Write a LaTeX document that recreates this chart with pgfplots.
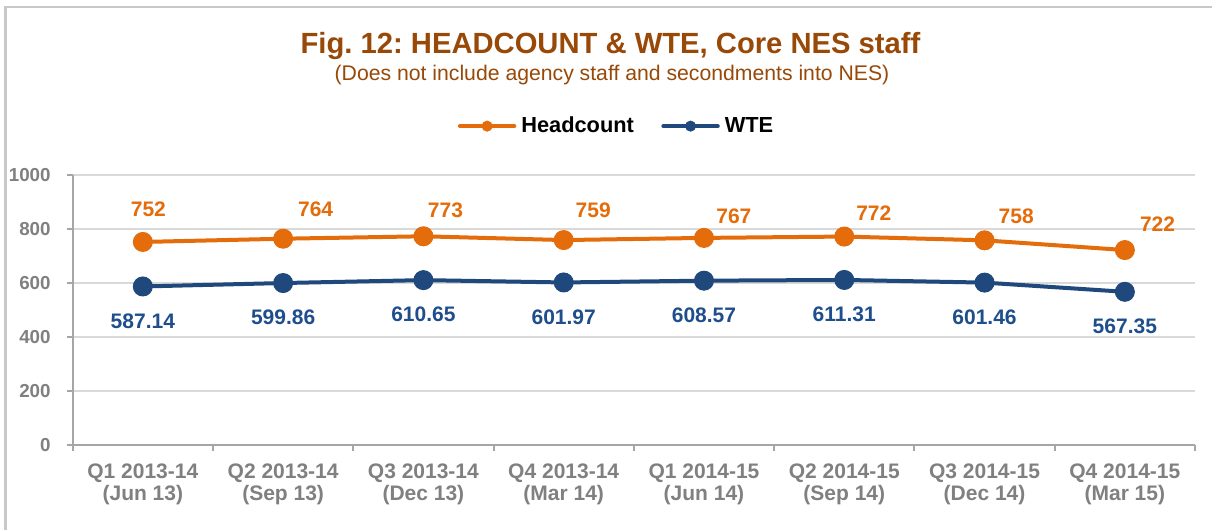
\documentclass[border=0pt]{standalone}
\usepackage{fontspec}
\setmainfont{Liberation Sans}
\usepackage{pgfplots}
\usepackage{pgfplotstable}
\pgfplotsset{compat=1.18}
\frenchspacing
\definecolor{hc}{HTML}{E46C0A}
\definecolor{wte}{HTML}{1F497D}
\definecolor{wtelab}{HTML}{1F4E8C}
\definecolor{titlec}{HTML}{984807}
\definecolor{tickc}{HTML}{808080}
\definecolor{axisc}{HTML}{A6A6A6}
\definecolor{gridc}{HTML}{D9D9D9}
\definecolor{borderc}{HTML}{C8C8C8}

\pgfplotstableread{
x y dx dy lab
0.5 752 2.75 16.1 752
1.5 764 16.25 14.9 764
2.5 773 11 13.1 773
3.5 759 14.75 14.65 759
4.5 767 14.95 10.7 767
5.5 772 14.75 11.85 772
6.5 758 15.85 12.2 758
7.5 722 16.35 13 722
}\hcdata

\pgfplotstableread{
x y dx dy lab
0.5 587.14 0 -17.25 587.14
1.5 599.86 0 -17.25 599.86
2.5 610.65 0 -17.25 610.65
3.5 601.97 0 -17.25 601.97
4.5 608.57 0 -17.25 608.57
5.5 611.31 0 -17.25 611.31
6.5 601.46 0 -17.25 601.46
7.5 567.35 0 -17.25 567.35
}\wtedata

\begin{document}
\frenchspacing
\begin{tikzpicture}
\useasboundingbox (0,0) rectangle (606pt,265pt);
\fill[white] (0,0) rectangle (606pt,265pt);
\draw[borderc, line width=1.25pt] (2.75pt,-10pt) |- (620pt,261.5pt);

\node[anchor=base, text=titlec, font=\bfseries\fontsize{14.6}{17}\selectfont] at (305.25pt,238pt) {Fig. 12: HEADCOUNT \& WTE, Core NES staff};
\node[anchor=base, text=titlec, font=\fontsize{10.6}{12}\selectfont] at (306pt,224.5pt) {(Does not include agency staff and secondments into NES)};

\begin{axis}[
  at={(36.35pt,42.5pt)}, anchor=south west,
  scale only axis, width=561.15pt, height=135pt,
  xmin=0, xmax=8, ymin=0, ymax=1000,
  axis lines*=left,
  axis line style={draw=axisc, line width=1pt},
  ytick={0,200,...,1000},
  ymajorgrids, grid style={draw=gridc, line width=0.6pt},
  xtick={0.5,1.5,...,7.5},
  xticklabels={{Q1 2013-14\\(Jun 13)},{Q2 2013-14\\(Sep 13)},{Q3 2013-14\\(Dec 13)},{Q4 2013-14\\(Mar 14)},{Q1 2014-15\\(Jun 14)},{Q2 2014-15\\(Sep 14)},{Q3 2014-15\\(Dec 14)},{Q4 2014-15\\(Mar 15)}},
  minor xtick={0,1,...,8},
  tick align=outside,
  major tick length=3pt, minor tick length=3pt,
  major x tick style={draw=none},
  minor x tick style={draw=axisc, line width=1pt},
  major y tick style={draw=axisc, line width=1pt},
  xticklabel style={align=center, text=tickc, yshift=-3pt, font=\bfseries\fontsize{10.5}{10.8}\selectfont},
  yticklabel style={text=tickc, xshift=-4.5pt, font=\bfseries\fontsize{9.4}{11}\selectfont},
  /pgf/number format/assume math mode=true,
  /pgf/number format/1000 sep={},
  legend columns=2,
  legend style={at={(0.4837,1.181)}, anchor=center, draw=none, fill=none, inner sep=0pt,
    font=\bfseries\fontsize{10.9}{12}\selectfont,
    nodes={inner sep=0pt},
    /tikz/every odd column/.append style={column sep=2.5pt},
    /tikz/every even column/.append style={column sep=13.7pt}},
  legend image code/.code={\draw[mark repeat=2, mark phase=2, mark size=2.5pt, line cap=round] plot coordinates {(0pt,0pt)(13.6pt,0pt)(27.2pt,0pt)};},
  clip=false,
]
\addplot[hc, line width=2pt, mark=*, mark size=4.75pt, mark options={solid, line width=0.5pt},
  visualization depends on={\thisrow{dx}\as\dxv},
  visualization depends on={\thisrow{dy}\as\dyv},
  nodes near coords, point meta=explicit symbolic,
  nodes near coords style={anchor=center, xshift=\dxv pt, yshift=\dyv pt, text=hc, font=\bfseries\fontsize{10.5}{12}\selectfont}]
  table[x=x, y=y, meta=lab] {\hcdata};
\addlegendentry{Headcount}
\addplot[wte, line width=2pt, mark=*, mark size=4.75pt, mark options={solid, line width=0.5pt},
  visualization depends on={\thisrow{dx}\as\dxv},
  visualization depends on={\thisrow{dy}\as\dyv},
  nodes near coords, point meta=explicit symbolic,
  nodes near coords style={anchor=center, xshift=\dxv pt, yshift=\dyv pt, text=wtelab, font=\bfseries\fontsize{10.5}{12}\selectfont}]
  table[x=x, y=y, meta=lab] {\wtedata};
\addlegendentry{WTE}
\end{axis}
\end{tikzpicture}
\end{document}
